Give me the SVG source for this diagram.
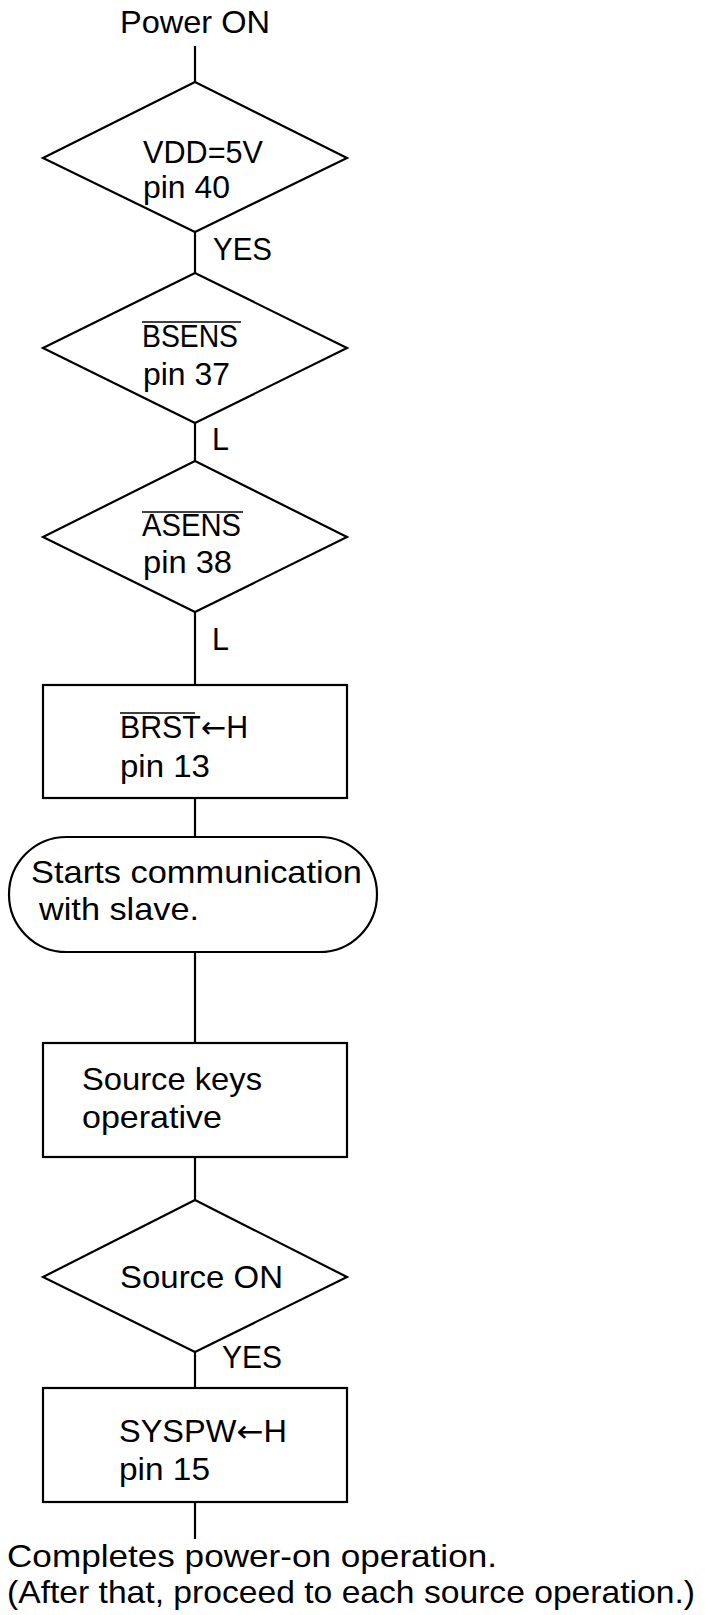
<svg xmlns="http://www.w3.org/2000/svg" width="705" height="1615" viewBox="0 0 705 1615">
<style>
.s{fill:#fff;stroke:#000;stroke-width:2.2}
.c{fill:none;stroke:#000;stroke-width:2.2}
.o{stroke:#000;stroke-width:1.6}
text{font-family:"Liberation Sans",Arial,sans-serif;font-size:30.5px;fill:#000}
.ar{font-family:"DejaVu Sans",sans-serif}
</style>
<rect width="705" height="1615" fill="#fff"/>
<g id="connectors">
<line class="c" x1="195" y1="46" x2="195" y2="82"/>
<line class="c" x1="195" y1="232" x2="195" y2="273"/>
<line class="c" x1="195" y1="423" x2="195" y2="461"/>
<line class="c" x1="195" y1="612" x2="195" y2="685"/>
<line class="c" x1="195" y1="798" x2="195" y2="837"/>
<line class="c" x1="195" y1="952" x2="195" y2="1042"/>
<line class="c" x1="195" y1="1157" x2="195" y2="1200"/>
<line class="c" x1="195" y1="1352" x2="195" y2="1388"/>
<line class="c" x1="195" y1="1502" x2="195" y2="1539"/>
<text x="213" y="260" textLength="59" lengthAdjust="spacingAndGlyphs">YES</text>
<text x="212" y="450">L</text>
<text x="212" y="650">L</text>
<text x="222" y="1368" textLength="60" lengthAdjust="spacingAndGlyphs">YES</text>
</g>
<g id="start">
<text x="120" y="33" textLength="150" lengthAdjust="spacingAndGlyphs">Power ON</text>
</g>
<g id="vdd">
<polygon class="s" points="195,82 347,158 195,232 43,158"/>
<text x="143" y="163" textLength="120" lengthAdjust="spacingAndGlyphs">VDD=5V</text>
<text x="143" y="198" textLength="87" lengthAdjust="spacingAndGlyphs">pin 40</text>
</g>
<g id="bsens">
<polygon class="s" points="195,273 347,348 195,423 43,348"/>
<line class="o" x1="142" y1="322" x2="241" y2="322"/>
<text x="142" y="347" textLength="96" lengthAdjust="spacingAndGlyphs">BSENS</text>
<text x="143" y="385" textLength="87" lengthAdjust="spacingAndGlyphs">pin 37</text>
</g>
<g id="asens">
<polygon class="s" points="195,461 347,537 195,612 43,537"/>
<line class="o" x1="142" y1="512" x2="243" y2="512"/>
<text x="142" y="536" textLength="99" lengthAdjust="spacingAndGlyphs">ASENS</text>
<text x="143" y="573" textLength="89" lengthAdjust="spacingAndGlyphs">pin 38</text>
</g>
<g id="brst">
<rect class="s" x="43" y="685" width="304" height="113"/>
<line class="o" x1="120" y1="713" x2="195" y2="713"/>
<text x="120" y="738" textLength="128" lengthAdjust="spacingAndGlyphs">BRST<tspan class="ar">←</tspan>H</text>
<text x="120" y="777" textLength="90" lengthAdjust="spacingAndGlyphs">pin 13</text>
</g>
<g id="comm">
<rect class="s" x="9" y="837" width="368" height="115" rx="57.5" ry="57.5"/>
<text x="31" y="883" textLength="331" lengthAdjust="spacingAndGlyphs">Starts communication</text>
<text x="39" y="920" textLength="160" lengthAdjust="spacingAndGlyphs">with slave.</text>
</g>
<g id="keys">
<rect class="s" x="43" y="1043" width="304" height="114"/>
<text x="82" y="1090" textLength="180" lengthAdjust="spacingAndGlyphs">Source keys</text>
<text x="82" y="1128" textLength="140" lengthAdjust="spacingAndGlyphs">operative</text>
</g>
<g id="srcon">
<polygon class="s" points="195,1200 347,1277 195,1352 43,1277"/>
<text x="120" y="1288" textLength="163" lengthAdjust="spacingAndGlyphs">Source ON</text>
</g>
<g id="syspw">
<rect class="s" x="43" y="1388" width="304" height="114"/>
<text x="119" y="1442" textLength="168" lengthAdjust="spacingAndGlyphs">SYSPW<tspan class="ar">←</tspan>H</text>
<text x="119" y="1480" textLength="91" lengthAdjust="spacingAndGlyphs">pin 15</text>
</g>
<g id="end">
<text x="7" y="1567" textLength="490" lengthAdjust="spacingAndGlyphs">Completes power-on operation.</text>
<text x="7" y="1603" textLength="688" lengthAdjust="spacingAndGlyphs">(After that, proceed to each source operation.)</text>
</g>
</svg>
